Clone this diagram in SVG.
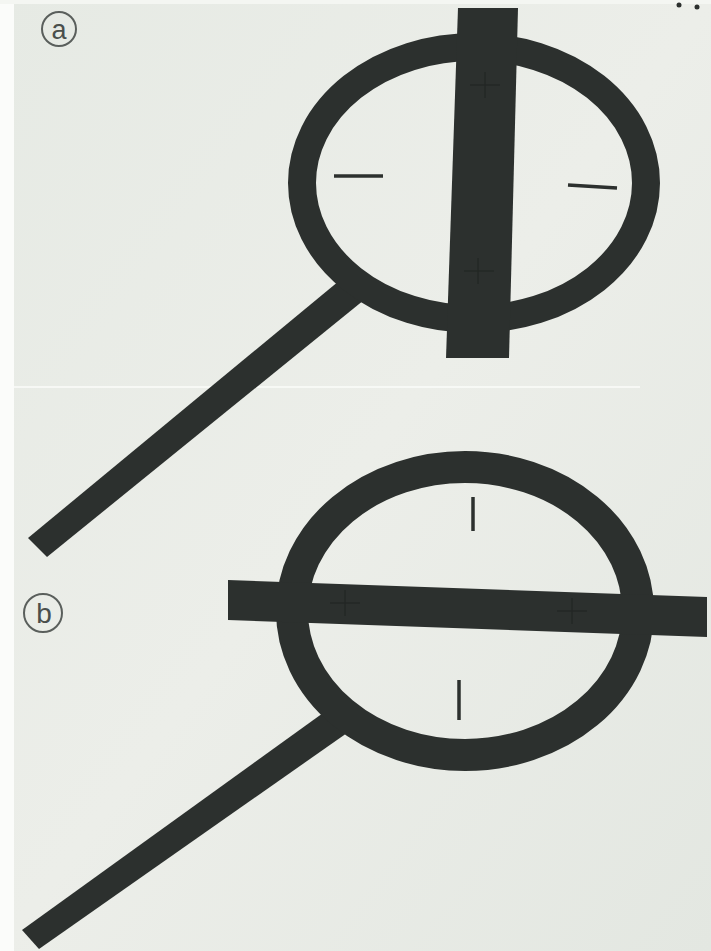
<svg xmlns="http://www.w3.org/2000/svg" width="711" height="951" viewBox="0 0 711 951">
<defs>
<style>
.ink{fill:#2c302e}
.ring{fill:none;stroke:#2c302e}
.tick{stroke:#2c302e;stroke-width:3.5;stroke-linecap:butt}
.mark{stroke:#1f2321;stroke-width:1.2;opacity:0.7}
.lab{fill:none;stroke:#5a5f5c;stroke-width:2}
.lt{font-family:"Liberation Sans",Arial,sans-serif;fill:#4a4f4c;text-anchor:middle}
</style>
<linearGradient id="bg" x1="0" y1="0" x2="1" y2="1">
<stop offset="0" stop-color="#e6eae4"/>
<stop offset="0.5" stop-color="#eceee9"/>
<stop offset="1" stop-color="#e3e7e1"/>
</linearGradient>
</defs>
<rect width="711" height="951" fill="url(#bg)"/>
<rect x="0" y="0" width="14" height="951" fill="#fbfcfa"/>
<rect x="0" y="0" width="711" height="4" fill="#f4f6f2"/>
<line x1="14" y1="387" x2="640" y2="387" stroke="#fbfcfa" stroke-width="1.5"/>
<circle cx="679" cy="5" r="2.5" class="ink"/>
<circle cx="697" cy="7" r="2.5" class="ink"/>

<g id="figure-a">
<g id="label-a">
<circle cx="59" cy="29" r="17" class="lab"/>
<text x="59" y="38.5" class="lt" font-size="27">a</text>
</g>
<polygon id="handle-a" class="ink" points="28,538 345,276 364,300 47,557"/>
<ellipse id="ring-a" cx="474" cy="183" rx="172" ry="136" class="ring" stroke-width="28"/>
<polygon id="bar-a" class="ink" points="458,8 518,8 509,358 446,358"/>
<g class="mark">
<line x1="485" y1="72" x2="485" y2="98"/><line x1="470" y1="85" x2="500" y2="85"/>
<line x1="478" y1="258" x2="478" y2="284"/><line x1="464" y1="271" x2="494" y2="271"/>
</g>
<line class="tick" x1="334" y1="176" x2="383" y2="176"/>
<line class="tick" x1="568" y1="185" x2="617" y2="188"/>
</g>

<g id="figure-b">
<g id="label-b">
<circle cx="43" cy="613" r="19" class="lab"/>
<text x="44" y="623" class="lt" font-size="28">b</text>
</g>
<polygon id="handle-b" class="ink" points="22,930 330,708 347,733 39,949"/>
<ellipse id="ring-b" cx="465" cy="611" rx="173" ry="144" class="ring" stroke-width="32"/>
<polygon id="bar-b" class="ink" points="228,580 707,597 707,637 228,620"/>
<g class="mark">
<line x1="345" y1="590" x2="345" y2="616"/><line x1="330" y1="603" x2="360" y2="603"/>
<line x1="572" y1="598" x2="572" y2="624"/><line x1="557" y1="611" x2="587" y2="611"/>
</g>
<line class="tick" x1="473" y1="497" x2="473" y2="531"/>
<line class="tick" x1="459" y1="680" x2="459" y2="720"/>
</g>
</svg>
